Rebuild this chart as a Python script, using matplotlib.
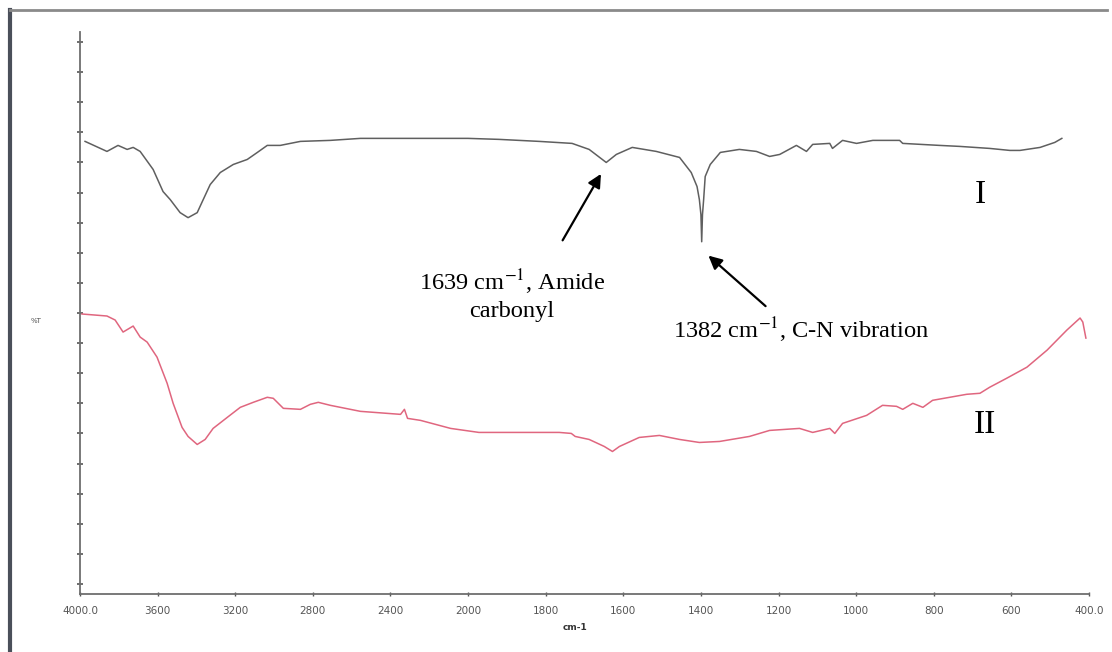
import numpy as np
import matplotlib
matplotlib.use("Agg")
import matplotlib.pyplot as plt
from matplotlib.lines import Line2D

# ---- data (wavenumber cm-1, %T arbitrary) ----
wn_I = [3974, 3861, 3804, 3757, 3726, 3690, 3649, 3623, 3572, 3535, 3484, 3443,
        3396, 3365, 3329, 3277, 3210, 3138, 3086, 3035, 2968, 2916, 2864, 2710,
        2555, 2348, 2090, 2000, 1920, 1817, 1732, 1688, 1644, 1618, 1577, 1515,
        1455, 1425, 1410, 1404, 1400, 1398, 1396, 1393, 1389, 1376, 1350, 1301,
        1257, 1223, 1197, 1154, 1128, 1112, 1068, 1061, 1035, 999, 957, 888, 880,
        785, 733, 656, 604, 578, 526, 488, 470]
T_I = [44.1, 43.1, 43.7, 43.3, 43.5, 43.1, 42.0, 41.3, 39.1, 38.3, 37.0, 36.5,
       37.0, 38.3, 39.8, 41.0, 41.8, 42.3, 43.0, 43.7, 43.7, 43.9, 44.1, 44.2,
       44.4, 44.4, 44.4, 44.4, 44.3, 44.1, 43.9, 43.3, 42.0, 42.8, 43.5, 43.1,
       42.5, 41.0, 39.6, 38.3, 36.8, 34.1, 36.8, 38.3, 40.6, 41.8, 43.0, 43.3,
       43.1, 42.6, 42.8, 43.7, 43.1, 43.8, 43.9, 43.4, 44.2, 43.9, 44.2, 44.2, 43.9,
       43.7, 43.6, 43.4, 43.2, 43.2, 43.5, 44.0, 44.4]

wn_II = [3990, 3861, 3819, 3778, 3726, 3690, 3654, 3603, 3551, 3520, 3474, 3443,
         3396, 3355, 3314, 3241, 3174, 3107, 3035, 3004, 2952, 2864, 2813, 2772,
         2710, 2555, 2348, 2328, 2312, 2245, 2090, 1972, 1868, 1765, 1734, 1724,
         1688, 1649, 1628, 1610, 1559, 1507, 1455, 1404, 1352, 1275, 1223, 1146,
         1112, 1068, 1055, 1035, 973, 932, 896, 880, 854, 828, 803, 759, 715, 681,
         656, 612, 560, 508, 457, 423, 416, 408]
T_II = [26.9, 26.7, 26.3, 25.1, 25.7, 24.6, 24.1, 22.6, 20.0, 18.0, 15.6, 14.7,
        13.9, 14.4, 15.5, 16.6, 17.6, 18.1, 18.6, 18.5, 17.5, 17.4, 17.9, 18.1,
        17.8, 17.2, 16.9, 17.4, 16.5, 16.3, 15.5, 15.1, 15.1, 15.1, 15.0, 14.7,
        14.4, 13.7, 13.2, 13.7, 14.6, 14.8, 14.4, 14.1, 14.2, 14.7, 15.3, 15.5,
        15.1, 15.5, 15.0, 16.0, 16.8, 17.8, 17.7, 17.4, 18.0, 17.6, 18.3, 18.6, 18.9,
        19.0, 19.6, 20.5, 21.6, 23.3, 25.3, 26.5, 26.1, 24.5]

x_ticks = [4000, 3600, 3200, 2800, 2400, 2000, 1800, 1600, 1400, 1200, 1000, 800, 600, 400]
x_ticklabels = ["4000.0", "3600", "3200", "2800", "2400", "2000", "1800", "1600",
                "1400", "1200", "1000", "800", "600", "400.0"]
y_ticks = list(range(0, 55, 3))

# ---- piecewise scale: 2x expansion below 2000 cm-1 ----
def fwd(w):
    w = np.asarray(w, dtype=float)
    return np.where(w >= 2000, w, 2 * w - 2000)

def inv(t):
    t = np.asarray(t, dtype=float)
    return np.where(t >= 2000, t, (t + 2000) / 2)

W, H = 1112, 652
fig = plt.figure(figsize=(W / 100, H / 100), dpi=100)
plt.rcParams['mathtext.fontset'] = 'stix'

ax = fig.add_axes([80 / W, 1 - 594 / H, (1089 - 80) / W, (594 - 32) / H])
ax.set_xscale('function', functions=(fwd, inv))
ax.set_xlim(4000, 400)
ax.set_ylim(-1.0, 55.0)

ax.plot(wn_I, T_I, color='#5f5f5f', lw=1.1)
ax.plot(wn_II, T_II, color='#e0667f', lw=1.1)

for s in ['top', 'right']:
    ax.spines[s].set_visible(False)
for s in ['left', 'bottom']:
    ax.spines[s].set_color('#6e6e6e')
    ax.spines[s].set_linewidth(1.3)

ax.set_xticks(x_ticks)
ax.set_xticklabels(x_ticklabels)
ax.xaxis.set_minor_locator(matplotlib.ticker.NullLocator())
ax.set_yticks(y_ticks)
ax.set_yticklabels([])
ax.tick_params(axis='x', direction='inout', length=3, width=1, color='#555555',
               labelsize=7.5, labelcolor='#555555', pad=7)
ax.tick_params(axis='y', direction='inout', length=4, width=1.2, color='#555555')

serif = ['Liberation Serif', 'DejaVu Serif']

ax.annotate('', xy=(1654, 41.1), xytext=(1760, 34.0),
            arrowprops=dict(arrowstyle='-|>', color='black', lw=1.6,
                            mutation_scale=20))
ax.annotate('', xy=(1386, 32.9), xytext=(1228, 27.5),
            arrowprops=dict(arrowstyle='-|>', color='black', lw=1.6,
                            mutation_scale=20))

fig.text(512 / W, 1 - 268 / H, '1639 cm$^{-1}$, Amide\ncarbonyl', ha='center',
         va='top', fontsize=17.6, family=serif, linespacing=1.2)
fig.text(673 / W, 1 - 330 / H, '1382 cm$^{-1}$, C-N vibration', ha='left',
         va='center', fontsize=17.6, family=serif)
fig.text(980 / W, 1 - 195 / H, 'I', ha='center', va='center', fontsize=24,
         family=serif)
fig.text(985 / W, 1 - 425 / H, 'II', ha='center', va='center', fontsize=24,
         family=serif)

fig.text(575 / W, 1 - 628 / H, 'cm-1', ha='center', va='center', fontsize=6.5,
         fontweight='bold', color='#333333')
fig.text(36 / W, 1 - 321 / H, '%T', ha='center', va='center', fontsize=5,
         color='#555555')

# outer frame
fig.add_artist(Line2D([10 / W, 10 / W], [0, 1 - 10 / H], color='#4a4f5a', lw=3,
                      transform=fig.transFigure))
fig.add_artist(Line2D([10 / W, 1107 / W], [1 - 10 / H, 1 - 10 / H], color='#8a8a8a',
                      lw=2, transform=fig.transFigure))

fig.savefig('out.png', dpi=100)
